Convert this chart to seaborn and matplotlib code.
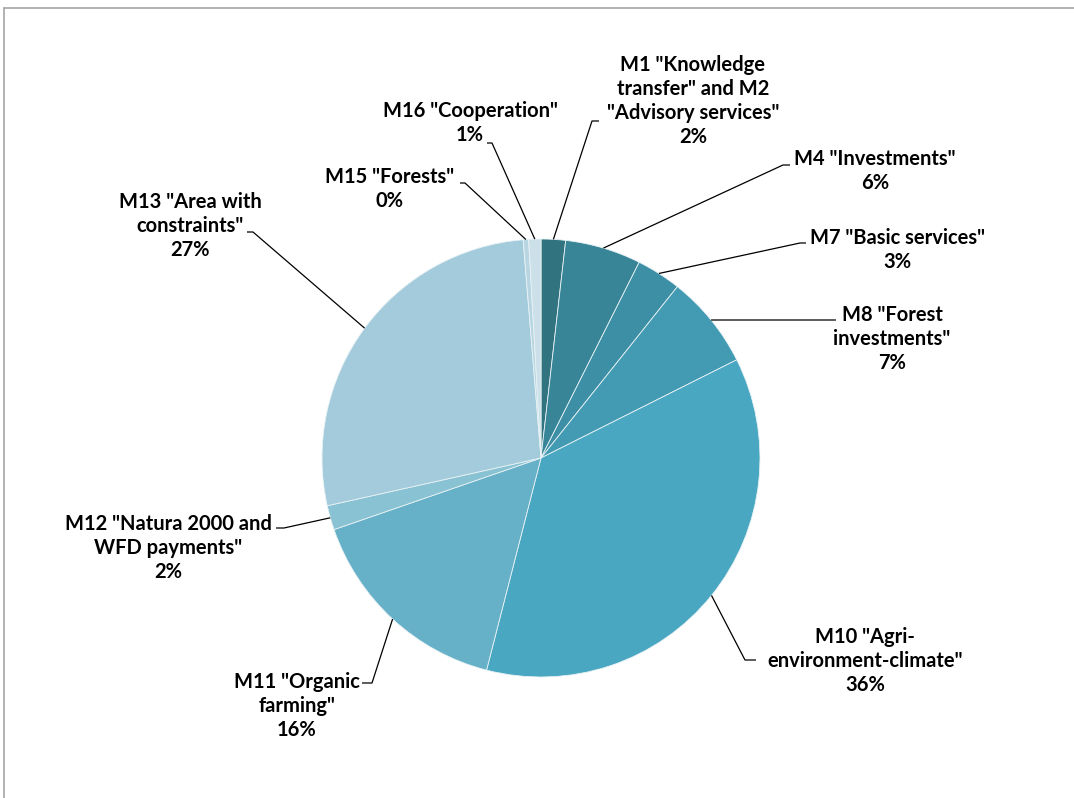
import matplotlib
matplotlib.use('Agg')

import numpy as np
import matplotlib.pyplot as plt
import seaborn as sns
from matplotlib.lines import Line2D

# data
measures = [
    'M1 "Knowledge\ntransfer" and M2\n"Advisory services"',
    'M4 "Investments"',
    'M7 "Basic services"',
    'M8 "Forest\ninvestments"',
    'M10 "Agri-\nenvironment-climate"',
    'M11 "Organic\nfarming"',
    'M12 "Natura 2000 and\nWFD payments"',
    'M13 "Area with\nconstraints"',
    'M15 "Forests"',
    'M16 "Cooperation"',
]
shares = [1.8, 5.6, 3.3, 6.9, 36.4, 15.7, 1.8, 27.2, 0.4, 0.9]
colors = ['#31737f', '#378597', '#3d8fa5', '#439bb3', '#4aa7c1',
          '#66b0c8', '#89c2d2', '#a3cbdb', '#b7d6e2', '#cbe0e8']

# layout (pixels of the 1074x798 canvas): label centre, elbow, stub end
label_xy = [(693, 101), (875, 171), (897, 250), (892, 339), (865, 661),
            (297, 706), (168, 548), (190, 226), (390, 189), (470, 123)]
elbow_xy = [(592, 121), (783, 165), (800, 243), (836, 320), (745, 660),
            (372, 683), (284, 528), (253, 232), (465, 183), (492, 143)]
stub_xy = [(599, 121), (790, 165), (806, 243), (836, 320), (756, 660),
           (362, 683), (276, 528), (247, 232), (460, 183), (487, 143)]

W, H = 1074, 798
CX, CY, R = 541, 458, 219


def px(x, y):
    return ((x - CX) / R, (CY - y) / R)


sns.set_theme(style="white")
plt.rcParams['font.family'] = ['Lato', 'DejaVu Sans']

fig = plt.figure(figsize=(W / 100, H / 100), dpi=100)
ax = fig.add_axes([0, 0, 1, 1])

wedges, _ = ax.pie(shares, colors=colors, startangle=90, counterclock=False,
                   radius=1, wedgeprops={'edgecolor': '#e8f2f5', 'linewidth': 0.6})
ax.set_xlim((0 - CX) / R, (W - CX) / R)
ax.set_ylim((CY - H) / R, CY / R)
ax.set_aspect('equal', adjustable='datalim')
ax.axis('off')

total = sum(shares)
for i, w in enumerate(wedges):
    mid = np.deg2rad((w.theta1 + w.theta2) / 2)
    x0, y0 = np.cos(mid), np.sin(mid)
    ex, ey = px(*elbow_xy[i])
    sx, sy = px(*stub_xy[i])
    ax.plot([x0, ex, sx], [y0, ey, sy], color='black', lw=0.9, solid_capstyle='butt')
    pct = round(shares[i] / total * 100)
    lx, ly = px(*label_xy[i])
    ax.text(lx, ly, f"{measures[i]}\n{pct}%", ha='center', va='center',
            fontsize=14.5, fontweight='bold', linespacing=1.25, color='black')

# chart area border (top and left visible)
fig.add_artist(Line2D([4 / W, 1], [1 - 8 / H, 1 - 8 / H], color='#a6a6a6', lw=1.2))
fig.add_artist(Line2D([4 / W, 4 / W], [0, 1 - 8 / H], color='#a6a6a6', lw=1.2))

fig.savefig('out.png', dpi=100)
